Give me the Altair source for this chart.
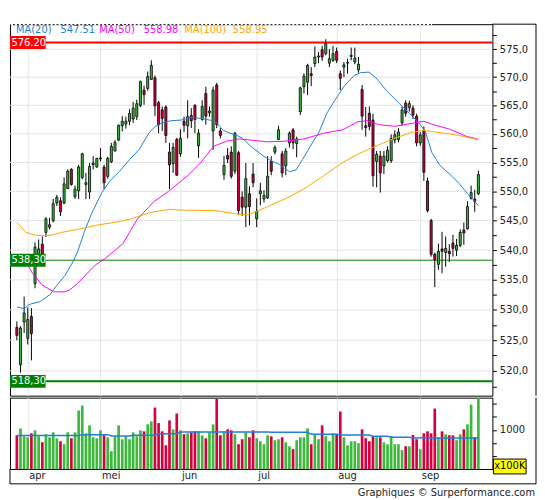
import altair as alt
import pandas as pd

# ---------------- data ----------------
opens = [527.1, 521.0, 528.0, 525.3, 528.9, 534.4, 538.8, 541.0, 543.0, 543.9,
         545.0, 548.0, 548.4, 548.0, 550.5, 553.8, 549.1, 550.1, 552.4, 551.2,
         549.9, 554.6, 554.2, 555.6, 554.2, 552.6, 555.1, 557.0, 558.9, 561.4,
         561.7, 562.2, 562.6, 563.0, 565.0, 567.7, 568.0, 569.6, 569.9, 565.5,
         564.2, 564.7, 556.8, 554.8, 559.0, 556.5, 562.2, 561.4, 563.2, 565.0,
         557.9, 562.5, 567.1, 563.7, 560.5, 568.6, 560.5, 552.9, 556.2, 556.8,
         553.5, 556.7, 549.0, 547.3, 549.6, 553.0, 545.3, 549.6, 548.7, 548.9,
         555.2, 556.8, 559.0, 556.5, 554.4, 558.4, 560.7, 558.3, 563.9, 568.3,
         569.1, 570.6, 572.4, 573.6, 574.9, 574.2, 572.5, 573.0, 574.6, 570.6,
         571.8, 572.5, 573.7, 572.7, 571.3, 567.8, 561.4, 563.6, 562.4, 555.2,
         556.1, 554.4, 555.3, 555.3, 558.9, 559.0, 561.9, 565.4, 564.6, 564.5,
         563.1, 558.4, 560.6, 551.8, 545.0, 539.3, 537.6, 540.2, 539.6, 539.8,
         541.2, 540.0, 540.8, 543.4, 543.6, 548.8, 548.7, 549.6]
highs = [528.1, 527.3, 532.2, 530.4, 530.3, 541.3, 541.8, 542.3, 545.6, 545.5,
         548.7, 549.4, 549.0, 552.4, 553.8, 554.0, 551.0, 554.6, 556.7, 553.2,
         554.9, 556.1, 555.8, 557.5, 554.6, 556.0, 558.4, 558.9, 561.6, 563.1,
         563.0, 564.3, 565.6, 566.0, 569.4, 568.5, 571.0, 573.0, 570.3, 565.8,
         564.8, 565.0, 558.4, 558.4, 559.3, 560.8, 563.0, 565.9, 564.5, 565.2,
         560.8, 565.9, 568.3, 564.8, 568.3, 569.0, 561.0, 556.1, 557.5, 557.8,
         560.3, 557.0, 550.0, 554.9, 550.9, 554.9, 548.8, 551.5, 550.2, 556.1,
         556.1, 558.0, 561.4, 557.0, 557.5, 560.4, 561.0, 559.5, 568.3, 570.7,
         572.4, 571.8, 575.5, 574.5, 575.6, 576.8, 575.0, 575.6, 575.3, 571.2,
         572.7, 573.3, 575.3, 575.3, 573.6, 568.6, 564.7, 564.8, 563.5, 557.0,
         557.0, 557.0, 557.8, 559.9, 560.6, 561.0, 564.8, 565.9, 565.8, 565.0,
         563.5, 560.3, 561.3, 552.4, 545.3, 539.6, 541.1, 543.1, 542.3, 541.0,
         542.6, 541.9, 543.5, 544.7, 548.3, 551.0, 550.3, 553.6]
lows = [525.0, 519.7, 526.2, 524.3, 521.7, 533.6, 537.9, 538.4, 542.2, 543.5,
        544.7, 547.5, 545.8, 547.8, 550.4, 551.0, 548.7, 548.7, 552.1, 548.7,
        548.7, 553.8, 554.1, 555.2, 550.4, 552.2, 554.9, 556.9, 558.7, 560.4,
        560.9, 561.5, 561.9, 562.4, 564.7, 565.1, 567.6, 569.5, 563.1, 560.1,
        560.5, 558.4, 550.4, 553.2, 552.7, 556.0, 560.3, 559.2, 561.0, 560.1,
        555.8, 562.3, 561.6, 563.0, 557.2, 561.0, 559.2, 552.0, 554.9, 552.2,
        553.0, 546.0, 545.8, 543.9, 544.2, 550.7, 543.9, 547.6, 548.1, 548.7,
        552.8, 556.4, 558.9, 552.4, 552.8, 557.6, 557.3, 555.9, 563.3, 567.1,
        566.8, 568.4, 571.8, 572.5, 572.9, 573.9, 571.8, 572.7, 572.5, 567.7,
        570.0, 570.6, 573.0, 572.3, 570.8, 560.7, 559.5, 560.6, 550.8, 550.7,
        549.8, 553.0, 555.0, 554.9, 558.3, 558.5, 561.4, 563.0, 563.9, 562.6,
        557.8, 557.9, 551.8, 546.4, 538.9, 533.8, 536.7, 536.1, 537.2, 538.0,
        538.9, 539.0, 540.5, 540.9, 543.5, 548.6, 546.5, 549.4]
closes = [525.8, 527.0, 529.5, 528.4, 526.1, 540.5, 540.2, 539.2, 545.3, 544.3,
          547.9, 549.0, 546.5, 551.3, 553.5, 551.2, 550.4, 554.2, 556.5, 551.5,
          554.3, 554.9, 555.7, 555.8, 551.5, 555.7, 557.8, 558.5, 561.5, 562.2,
          562.2, 563.6, 564.5, 565.3, 569.2, 566.9, 570.1, 572.1, 564.9, 561.6,
          562.7, 559.7, 554.6, 557.6, 552.8, 559.2, 561.5, 563.0, 562.3, 562.5,
          560.1, 564.8, 563.1, 564.0, 567.7, 561.6, 559.7, 554.5, 555.6, 552.6,
          560.1, 546.7, 547.3, 552.2, 547.4, 551.5, 546.6, 550.1, 549.3, 552.6,
          553.5, 557.6, 560.7, 553.2, 557.0, 560.1, 558.4, 559.1, 568.1, 570.2,
          572.1, 570.3, 573.6, 573.8, 573.6, 576.0, 573.3, 574.2, 573.0, 569.8,
          572.2, 572.6, 573.9, 573.4, 572.3, 563.1, 561.1, 561.3, 552.7, 556.4,
          553.2, 556.1, 557.1, 559.2, 559.8, 560.3, 564.2, 563.6, 565.3, 563.3,
          558.4, 559.8, 553.3, 546.7, 539.3, 538.4, 539.8, 539.8, 540.3, 539.4,
          540.3, 540.8, 543.0, 542.9, 547.4, 549.8, 548.3, 552.9]
volumes = [899, 1030, 880, 861, 936, 993, 880, 767, 918, 861,
           955, 842, 786, 730, 955, 842, 955, 1369, 1463, 936,
           1087, 861, 842, 993, 899, 861, 598, 880, 1087, 824,
           880, 824, 955, 880, 993, 974, 1106, 1162, 1425, 1130,
           974, 711, 1181, 1012, 1312, 993, 918, 936, 955, 974,
           974, 899, 842, 955, 1106, 1594, 899, 974, 1012, 993,
           918, 730, 824, 955, 861, 993, 842, 786, 730, 899,
           880, 805, 824, 861, 767, 692, 636, 805, 861, 861,
           1030, 730, 918, 824, 1087, 880, 786, 936, 918, 1350,
           861, 711, 786, 786, 749, 1012, 842, 786, 880, 861,
           861, 767, 730, 880, 730, 730, 617, 692, 692, 905,
           824, 636, 936, 974, 936, 1406, 861, 974, 918, 899,
           899, 805, 918, 1012, 1106, 1481, 861, 1607]
volume_ma = [893, 893, 893, 893, 893, 893, 893, 893, 893, 893,
             893, 893, 893, 893, 893, 893, 893, 893, 911, 911,
             911, 911, 911, 911, 911, 911, 886, 886, 886, 886,
             886, 886, 899, 899, 899, 899, 899, 899, 899, 930,
             930, 930, 930, 930, 930, 962, 962, 962, 962, 962,
             962, 962, 962, 962, 962, 962, 962, 962, 962, 962,
             962, 962, 962, 962, 962, 962, 962, 962, 962, 962,
             955, 955, 955, 955, 955, 955, 955, 955, 955, 955,
             955, 918, 918, 918, 918, 918, 918, 918, 918, 905,
             905, 905, 905, 905, 905, 905, 905, 905, 880, 880,
             880, 880, 880, 861, 861, 861, 861, 861, 861, 849,
             849, 852, 852, 849, 849, 849, 849, 849, 849, 849,
             849, 849, 849, 849, 849, 849, 849, 849]

ma20_idx = [0, 2, 3.4, 6.5, 9.2, 11, 13.2, 15.4, 16.7, 18.5, 20.7, 23.4, 25.6, 28.3,
            31, 33.6, 36.3, 38.1, 39.9, 42.5, 45.2, 47.9, 50.5, 53.2, 55, 56.8, 58.6,
            60.3, 62.1, 64.4, 67.9, 69.7, 72.4, 75, 76.8, 78.6, 81.3, 83, 85.3, 87.5,
            90.2, 92.8, 94.6, 96.9, 99.1, 101.7, 105.3, 108, 110.6, 112.4, 114.2,
            116.4, 119.1, 121.8, 124, 125.3, 126.8, 127]
ma20_val = [530.5, 530.2, 530.9, 531.4, 532.6, 534.1, 535.7, 538.0, 539.7, 543.0,
            546.4, 549.8, 551.8, 553.5, 555.5, 557.2, 560.1, 561.3, 561.9, 562.3,
            562.4, 562.9, 562.7, 562.4, 561.9, 560.6, 560.1, 559.8, 559.2, 557.8,
            556.1, 555.4, 554.6, 553.4, 553.7, 555.5, 558.4, 560.1, 563.6, 565.9,
            568.5, 570.3, 570.8, 570.9, 569.7, 567.6, 565.3, 563.6, 561.9, 560.4,
            556.7, 554.5, 553.0, 551.3, 549.6, 548.8, 547.7, 547.51]
ma50_idx = [0, 2.5, 4.3, 6.9, 10.1, 13.2, 14.5, 16.7, 18.9, 21.6, 24.3, 26.5, 29.2,
            31, 33.2, 36.3, 37.6, 41.7, 47, 50.5, 54.1, 57.7, 61.2, 64.4, 68.8, 73.7,
            79, 84.4, 89.7, 93.7, 96.4, 99.5, 104, 106.6, 110.2, 112, 114.6, 119.1,
            123.5, 126.6, 127]
ma50_val = [539.0, 538.0, 536.1, 534.2, 533.0, 533.0, 533.3, 534.4, 535.8, 537.5,
            538.6, 539.7, 541.1, 543.0, 545.3, 547.3, 548.2, 550.0, 552.7, 554.9,
            557.8, 558.7, 559.1, 558.9, 558.6, 558.7, 559.1, 560.1, 560.7, 562.1,
            562.3, 561.6, 561.3, 561.6, 562.0, 562.2, 561.6, 560.8, 559.6, 559.1,
            558.98]
ma100_idx = [0, 2.5, 5.2, 9.2, 12.3, 16.7, 22.5, 27, 31.4, 36.8, 41.7, 45.7, 54.6,
             59.9, 63.5, 66.1, 69.7, 73.7, 79, 84.4, 89.7, 93.7, 98.2, 103.5, 108.4,
             112, 116.4, 121.8, 126.6, 127]
ma100_val = [544.7, 543.0, 542.5, 542.5, 543.0, 543.5, 544.3, 544.7, 545.3, 546.4,
             546.9, 546.8, 546.7, 546.2, 546.0, 546.6, 547.6, 548.7, 550.4, 552.7,
             555.0, 556.4, 557.7, 559.1, 560.2, 560.6, 560.2, 559.7, 559.0, 558.95]

month_idx = [3, 23, 45, 66, 88, 111]
month_labels = ["apr", "mei", "jun", "jul", "aug", "sep"]

level_values = [576.20, 538.30, 518.30]
level_labels = ["576.20", "538,30", "518,30"]

legend_names = ["MA(20)", "MA(50)", "MA(100)"]
legend_values = ["547.51", "558.98", "558.95"]

price_ticks = [517.5, 520.0, 522.5, 525.0, 527.5, 530.0, 532.5, 535.0, 537.5, 540.0,
               542.5, 545.0, 547.5, 550.0, 552.5, 555.0, 557.5, 560.0, 562.5, 565.0,
               567.5, 570.0, 572.5, 575.0, 577.5]
price_grid = [520.0, 525.0, 530.0, 535.0, 540.0, 545.0, 550.0, 555.0, 560.0, 565.0,
              570.0, 575.0]
price_domain = [515.98, 579.52]
volume_ticks = [500, 750, 1000, 1250, 1500]
volume_domain = [260, 1613]
index_domain = [-0.53, 129.5]

footer_text = "Graphiques \u00a9 Surperformance.com"
unit_text = "x100K"

# ---------------- styles ----------------
FONT = "DejaVu Sans"
GREEN = "#3cb93c"
RED = "#d4003f"
MA_COLORS = ["#1f7fd6", "#ff00ff", "#ffa500"]
LEVEL_STYLES = [("#ff0000", 2), ("#008000", 1), ("#008000", 2)]
GRID = "#e4e4e4"
TXT = "#222222"
W, HP, HV = 487, 375, 72

df = pd.DataFrame({"i": list(range(len(opens))), "open": opens, "high": highs,
                   "low": lows, "close": closes, "vol": volumes, "vol_ma": volume_ma})
df["dir"] = ["up" if c >= o else "down" for o, c in zip(opens, closes)]

xscale = alt.Scale(domain=index_domain, nice=False, zero=False)
yscale = alt.Scale(type="log", domain=price_domain, nice=False, zero=False)
vscale = alt.Scale(domain=volume_domain, nice=False, zero=False)
cscale = alt.Scale(domain=["up", "down"], range=[GREEN, RED])
one = pd.DataFrame({"k": [0]})

# ---------------- price panel ----------------
x_price_axis = alt.Axis(values=month_idx, grid=True, gridColor=GRID, labels=False,
                        ticks=False, domain=False, title=None)
y_price_axis = alt.Axis(
    orient="right", values=price_ticks, title=None, grid=False,
    labelExpr="datum.value % 5 == 0 ? replace(format(datum.value, '.1f'), '.', ',') : ''",
    tickSize=4, tickColor="black", domain=False, labelPadding=3,
    labelFont=FONT, labelFontSize=10, labelColor=TXT)

def PX(field="i"):
    return alt.X(f"{field}:Q", scale=xscale, axis=x_price_axis)

def PY(field):
    return alt.Y(f"{field}:Q", scale=yscale, axis=y_price_axis)

layers = []
# horizontal grid lines at the labelled prices
layers.append(alt.Chart(pd.DataFrame({"v": price_grid})).mark_rule(color=GRID, strokeWidth=1)
              .encode(y=PY("v")))
for v, (col, w) in zip(level_values, LEVEL_STYLES):
    layers.append(alt.Chart(pd.DataFrame({"v": [v]})).mark_rule(color=col, strokeWidth=w)
                  .encode(y=PY("v")))

wicks = alt.Chart(df).mark_rule(color="black", strokeWidth=1).encode(
    x=PX(), y=PY("low"), y2="high:Q")
bodies = alt.Chart(df).mark_bar(width=2.1, stroke="black", strokeWidth=0.8).encode(
    x=PX(), y=PY("open"), y2="close:Q",
    color=alt.Color("dir:N", scale=cscale, legend=None))
layers += [wicks, bodies]

for idxs, vals, col in zip([ma20_idx, ma50_idx, ma100_idx], [ma20_val, ma50_val, ma100_val], MA_COLORS):
    layers.append(alt.Chart(pd.DataFrame({"i": idxs, "v": vals})).mark_line(color=col, strokeWidth=1)
                  .encode(x=PX(), y=PY("v")))

for v, lab, (col, w) in zip(level_values, level_labels, LEVEL_STYLES):
    d = pd.DataFrame({"v": [v], "t": [lab]})
    layers.append(alt.Chart(d).mark_rect(color=col, yOffset=-6.5, y2Offset=6.5).encode(
        x=alt.value(0), x2=alt.value(36), y=PY("v"), y2="v:Q"))
    layers.append(alt.Chart(d).mark_text(align="left", baseline="middle", color="white",
                                         font=FONT, fontSize=10).encode(
        x=alt.value(1.5), y=PY("v"), text="t:N"))

# dashed look of the top border above the legend
layers.append(alt.Chart(one).mark_rule(color="white", strokeWidth=2, strokeDash=[2, 2]).encode(
    x=alt.value(1), x2=alt.value(426), y=alt.value(0)))

legend_x = [6, 51, 90, 135, 176, 225]
legend_items = []
for name, val, col in zip(legend_names, legend_values, MA_COLORS):
    legend_items += [(name, col), (val, col)]
for (txt, col), px in zip(legend_items, legend_x):
    layers.append(alt.Chart(one).mark_text(text=txt, align="left", baseline="middle",
                                           color=col, font=FONT, fontSize=10)
                  .encode(x=alt.value(px), y=alt.value(6)))

# frame lines around the axis column
layers.append(alt.Chart(one).mark_rule(color="black", strokeWidth=1).encode(
    x=alt.value(531), y=alt.value(0), y2=alt.value(HP)))
layers.append(alt.Chart(one).mark_rule(color="black", strokeWidth=1).encode(
    x=alt.value(W), x2=alt.value(531), y=alt.value(0)))

price = alt.layer(*layers).properties(width=W, height=HP)

# ---------------- volume panel ----------------
month_expr = "''"
for mi, ml in reversed(list(zip(month_idx, month_labels))):
    month_expr = f"datum.value == {mi} ? '{ml}' : ({month_expr})"

x_vol_axis = alt.Axis(values=month_idx, grid=True, gridColor=GRID, labelExpr=month_expr,
                      labelAlign="left", labelOffset=1, labelPadding=2, labelFlush=False,
                      ticks=False, domain=False, title=None, labelFont=FONT,
                      labelFontSize=10, labelColor=TXT)
y_vol_axis = alt.Axis(orient="right", values=volume_ticks, title=None, grid=False,
                      labelExpr="datum.value == 1000 ? '1000' : ''", tickSize=4,
                      tickColor="black", domain=False, labelPadding=3, labelFont=FONT,
                      labelFontSize=10, labelColor=TXT)

def VX(field="i"):
    return alt.X(f"{field}:Q", scale=xscale, axis=x_vol_axis)

def VY(field):
    return alt.Y(f"{field}:Q", scale=vscale, axis=y_vol_axis)

vbars = alt.Chart(df).mark_bar(width=2.7).encode(
    x=VX(), y=VY("vol"), y2=alt.datum(volume_domain[0]),
    color=alt.Color("dir:N", scale=cscale, legend=None))
vma = alt.Chart(df).mark_line(color=MA_COLORS[0], strokeWidth=1.5).encode(
    x=VX(), y=VY("vol_ma"))

vlayers = [vbars, vma]
vlayers.append(alt.Chart(one).mark_rect(fill="#ffff00", stroke="black", strokeWidth=1).encode(
    x=alt.value(488), x2=alt.value(521), y=alt.value(62), y2=alt.value(77)))
vlayers.append(alt.Chart(one).mark_text(text=unit_text, align="center", baseline="middle",
                                        font=FONT, fontSize=10, color="black").encode(
    x=alt.value(504.5), y=alt.value(69.5)))
vlayers.append(alt.Chart(one).mark_rule(color="black", strokeWidth=1).encode(
    x=alt.value(531), y=alt.value(0), y2=alt.value(87)))
vlayers.append(alt.Chart(one).mark_rule(color="black", strokeWidth=1).encode(
    x=alt.value(0), x2=alt.value(531), y=alt.value(87)))
vlayers.append(alt.Chart(one).mark_rule(color="black", strokeWidth=1).encode(
    x=alt.value(0), y=alt.value(HV), y2=alt.value(87)))
vlayers.append(alt.Chart(one).mark_text(text=footer_text, align="right", baseline="middle",
                                        font=FONT, fontSize=10, color=TXT).encode(
    x=alt.value(530), y=alt.value(96.5)))

volume = alt.layer(*vlayers).properties(width=W, height=HV)

chart = alt.vconcat(price, volume, spacing=0).properties(
    padding={"left": 0, "top": 12, "right": 0, "bottom": 0},
    background="white",
).configure_view(stroke="black", strokeWidth=1)

chart.save("out.html", embed_options={"renderer": "svg", "actions": False})
